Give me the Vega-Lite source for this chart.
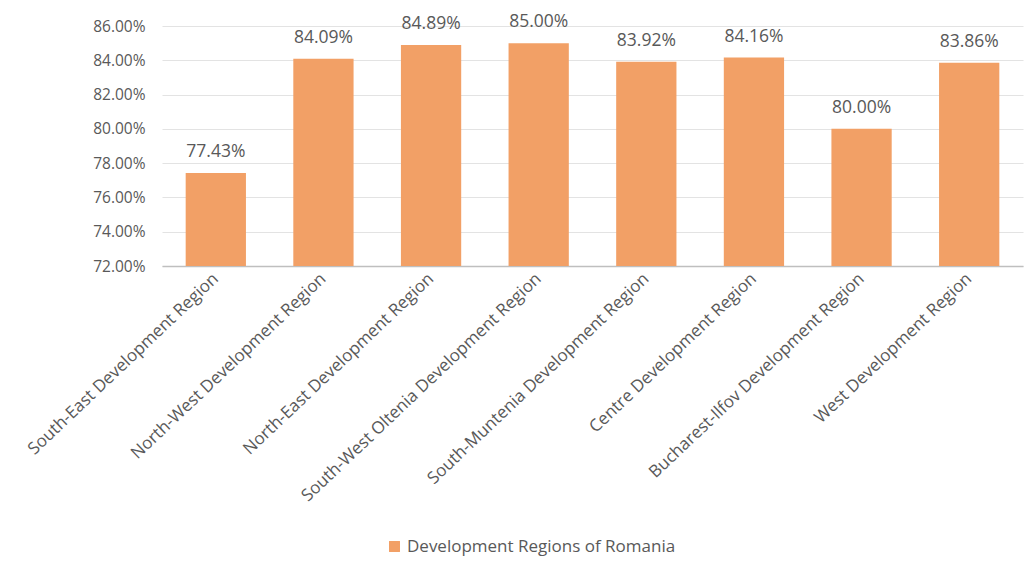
{
  "$schema": "https://vega.github.io/schema/vega-lite/v6.json",
  "width": 861,
  "height": 240,
  "autosize": {"type": "none"},
  "padding": {"left": 162, "top": 26, "right": 11, "bottom": 309},
  "background": "white",
  "data": {
    "values": [
      {"region": "South-East Development Region", "value": 0.7743, "series": "Development Regions of Romania"},
      {"region": "North-West Development Region", "value": 0.8409, "series": "Development Regions of Romania"},
      {"region": "North-East Development Region", "value": 0.8489, "series": "Development Regions of Romania"},
      {"region": "South-West Oltenia Development Region", "value": 0.85, "series": "Development Regions of Romania"},
      {"region": "South-Muntenia Development Region", "value": 0.8392, "series": "Development Regions of Romania"},
      {"region": "Centre Development Region", "value": 0.8416, "series": "Development Regions of Romania"},
      {"region": "Bucharest-Ilfov Development Region", "value": 0.80, "series": "Development Regions of Romania"},
      {"region": "West Development Region", "value": 0.8386, "series": "Development Regions of Romania"}
    ]
  },
  "config": {
    "view": {"stroke": null},
    "font": "Open Sans",
    "axis": {"labelColor": "#595959", "labelFont": "Open Sans"}
  },
  "encoding": {
    "x": {
      "field": "region", "type": "nominal", "sort": null, "title": null,
      "scale": {"paddingInner": 0.44, "paddingOuter": 0.22},
      "axis": {"labelAngle": -43.5, "labelAlign": "right", "labelBaseline": "middle", "ticks": false, "domainColor": "#bfbfbf", "domainWidth": 1.5, "labelPadding": 10, "labelLimit": 400, "labelFontSize": 17}
    },
    "y": {
      "field": "value", "type": "quantitative", "title": null,
      "scale": {"domain": [0.72, 0.86], "zero": false},
      "axis": {"format": ".2%", "values": [0.72, 0.74, 0.76, 0.78, 0.8, 0.82, 0.84, 0.86], "domain": false, "ticks": false, "gridColor": "#e3e3e3", "labelPadding": 17, "labelFontSize": 15.5}
    }
  },
  "layer": [
    {
      "mark": {"type": "bar", "clip": true},
      "encoding": {
        "y2": {"datum": 0.72},
        "color": {
          "field": "series", "type": "nominal",
          "scale": {"range": ["#F2A066"]},
          "legend": {"title": null, "orient": "none", "legendX": 224, "legendY": 512, "symbolType": "square", "symbolSize": 120, "labelFontSize": 17, "labelLimit": 400, "labelColor": "#595959", "labelFont": "Open Sans"}
        }
      }
    },
    {
      "mark": {"type": "text", "dy": -21, "fontSize": 17.5, "color": "#595959", "font": "Open Sans"},
      "encoding": {"text": {"field": "value", "format": ".2%"}}
    }
  ]
}
